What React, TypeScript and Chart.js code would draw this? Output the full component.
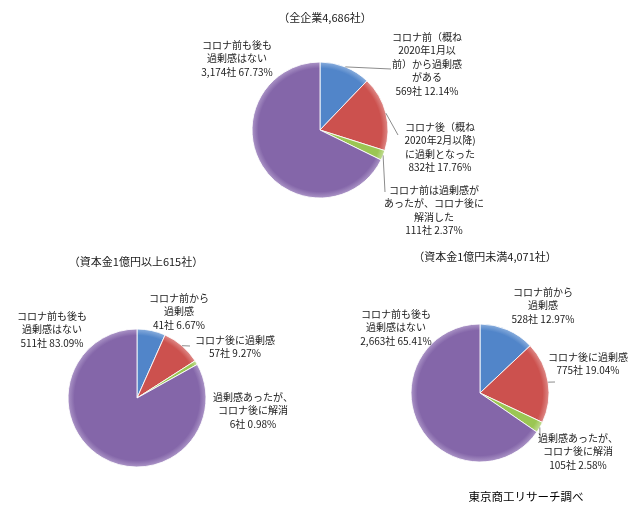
import React, { useEffect, useRef } from 'react';
import { Chart, registerables } from 'chart.js';

Chart.register(...registerables);

// slice order: before corona / after corona / resolved / none
const sliceColors = ['#5185C9', '#CC514E', '#9BC653', '#8466A9'];
const sliceRims = ['#8DB0DE', '#E08F8D', '#C4DE98', '#AE98C9'];

const allTitle = '（全企業4,686社）';
const allCounts = [569, 832, 111, 3174];
const allShares = [12.14, 17.76, 2.37, 67.73];
const allLines = [
  ['コロナ前（概ね', '2020年1月以', '前）から過剰感', 'がある'],
  ['コロナ後（概ね', '2020年2月以降)', 'に過剰となった'],
  ['コロナ前は過剰感が', 'あったが、コロナ後に', '解消した'],
  ['コロナ前も後も', '過剰感はない'],
];

const largeTitle = '（資本金1億円以上615社）';
const largeCounts = [41, 57, 6, 511];
const largeShares = [6.67, 9.27, 0.98, 83.09];
const largeLines = [
  ['コロナ前から', '過剰感'],
  ['コロナ後に過剰感'],
  ['過剰感あったが、', 'コロナ後に解消'],
  ['コロナ前も後も', '過剰感はない'],
];

const smallTitle = '（資本金1億円未満4,071社）';
const smallCounts = [528, 775, 105, 2663];
const smallShares = [12.97, 19.04, 2.58, 65.41];
const smallLines = [
  ['コロナ前から', '過剰感'],
  ['コロナ後に過剰感'],
  ['過剰感あったが、', 'コロナ後に解消'],
  ['コロナ前も後も', '過剰感はない'],
];

const sourceNote = '東京商工リサーチ調べ';

const W = 643;
const H = 512;
const FONT = '"Noto Sans CJK JP", "Noto Sans", sans-serif';

interface Layout {
  cx: number;
  cy: number;
  r: number;
  title: [number, number];
  labels: [number, number][]; // label centre x, first line y, relative to pie centre
  leaders: ([number, number] | null)[]; // leader end, relative to pie centre
  lineH: number;
}

const allLayout: Layout = {
  cx: 320, cy: 130, r: 68,
  title: [325, 18],
  labels: [[107, -93], [120, -3], [114, 60], [-83, -85]],
  leaders: [[71, -61], [78, 5], [65, 62], null],
  lineH: 13.5,
};

const largeLayout: Layout = {
  cx: 137, cy: 398, r: 69,
  title: [136, 262],
  labels: [[42, -100], [98, -58], [116, -1], [-85, -82]],
  leaders: [null, [53, -52], null, null],
  lineH: 13.5,
};

const smallLayout: Layout = {
  cx: 480, cy: 393, r: 69,
  title: [485, 257],
  labels: [[63, -101], [108, -36], [98, 45], [-84, -79]],
  leaders: [null, [75, -11], [60, 45], null],
  lineH: 13.5,
};

interface PieProps {
  title: string;
  counts: number[];
  shares: number[];
  lines: string[][];
  layout: Layout;
  note?: string;
}

const PieChart: React.FC<PieProps> = ({ title, counts, shares, lines, layout, note }) => {
  const canvasRef = useRef<HTMLCanvasElement>(null);

  useEffect(() => {
    if (!canvasRef.current) return;
    const { cx, cy, r } = layout;
    const R = r + 0.5;

    const labelPlugin = {
      id: 'pieLabels',
      afterDraw(chart: Chart) {
        const ctx = chart.ctx;
        const arcs = chart.getDatasetMeta(0).data as any[];
        ctx.save();

        // leader lines
        ctx.strokeStyle = '#8c8c8c';
        ctx.lineWidth = 1;
        arcs.forEach((arc, i) => {
          const end = layout.leaders[i];
          if (!end) return;
          const p = arc.getProps(['x', 'y', 'startAngle', 'endAngle', 'outerRadius'], true);
          const mid = (p.startAngle + p.endAngle) / 2;
          ctx.beginPath();
          ctx.moveTo(p.x + Math.cos(mid) * p.outerRadius, p.y + Math.sin(mid) * p.outerRadius);
          ctx.lineTo(p.x + end[0], p.y + end[1]);
          ctx.stroke();
        });

        // labels
        ctx.fillStyle = '#1a1a1a';
        ctx.textAlign = 'center';
        ctx.textBaseline = 'middle';
        ctx.font = `10px ${FONT}`;
        arcs.forEach((arc, i) => {
          const p = arc.getProps(['x', 'y'], true);
          const [dx, dy] = layout.labels[i];
          const text = [...lines[i], `${counts[i].toLocaleString('en-US')}社 ${shares[i].toFixed(2)}%`];
          text.forEach((t, k) => {
            ctx.fillText(t, p.x + dx, p.y + dy + k * layout.lineH);
          });
        });

        ctx.font = `11px ${FONT}`;
        ctx.fillText(title, layout.title[0], layout.title[1]);

        if (note) {
          ctx.fillStyle = '#000';
          ctx.font = `11.5px ${FONT}`;
          ctx.fillText(note, 526, 497);
        }
        ctx.restore();
      },
    };

    const chart = new Chart(canvasRef.current, {
      type: 'pie',
      data: {
        labels: lines.map((l) => l.join('')),
        datasets: [
          {
            data: counts,
            backgroundColor: (c: any) => {
              const area = c.chart.chartArea;
              const base = sliceColors[c.dataIndex % 4];
              if (!area) return base;
              const x = (area.left + area.right) / 2;
              const y = (area.top + area.bottom) / 2;
              const rad = Math.min(area.right - area.left, area.bottom - area.top) / 2;
              const g = c.chart.ctx.createRadialGradient(x, y, 0, x, y, rad);
              g.addColorStop(0, base);
              g.addColorStop(0.9, base);
              g.addColorStop(1, sliceRims[c.dataIndex % 4]);
              return g;
            },
            borderColor: 'rgba(255,255,255,0.85)',
            borderWidth: 1,
          },
        ],
      },
      options: {
        responsive: false,
        animation: false,
        events: [],
        layout: {
          padding: {
            left: cx - R,
            top: cy - R,
            right: W - cx - R,
            bottom: H - cy - R,
          },
        },
        plugins: {
          legend: { display: false },
          tooltip: { enabled: false },
        },
      },
      plugins: [labelPlugin],
    });

    return () => {
      chart.destroy();
    };
  }, [title, counts, shares, lines, layout, note]);

  return (
    <canvas
      ref={canvasRef}
      width={W}
      height={H}
      style={{ position: 'absolute', left: 0, top: 0, width: W, height: H }}
    />
  );
};

const App: React.FC = () => {
  useEffect(() => {
    document.body.style.margin = '0';
    document.body.style.background = '#fff';
  }, []);

  return (
    <div style={{ position: 'relative', width: W, height: H, background: '#fff' }}>
      <PieChart title={allTitle} counts={allCounts} shares={allShares} lines={allLines} layout={allLayout} />
      <PieChart title={largeTitle} counts={largeCounts} shares={largeShares} lines={largeLines} layout={largeLayout} />
      <PieChart
        title={smallTitle}
        counts={smallCounts}
        shares={smallShares}
        lines={smallLines}
        layout={smallLayout}
        note={sourceNote}
      />
    </div>
  );
};

export default App;
